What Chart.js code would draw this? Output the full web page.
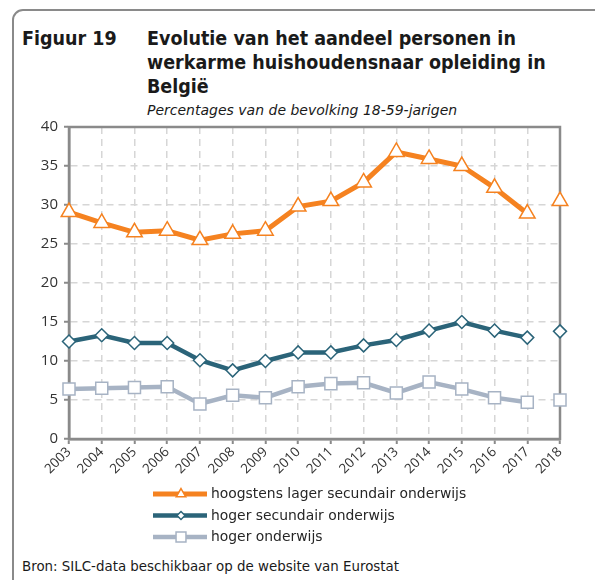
<!DOCTYPE html>
<html>
<head>
<meta charset="utf-8">
<script src="https://cdn.jsdelivr.net/npm/chart.js@4"></script>
<style>
  html, body { margin:0; padding:0; width:595px; height:580px; overflow:hidden; background:#fff; }
  #frame { position:absolute; left:12px; top:9px; width:700px; height:700px; border:2px solid #8a8a8a; border-top-left-radius:11px; box-sizing:border-box; }
  .t { position:absolute; font-family:"DejaVu Sans", sans-serif; color:#1a1a1a; white-space:nowrap; }
  .hd { font-family:"DejaVu Sans Condensed", "DejaVu Sans", sans-serif; font-stretch:condensed; font-size:19.5px; font-weight:bold; line-height:24px; }
  #fig { left:22px; top:27px; }
  #title { left:147px; top:27px; }
  #sub { left:147px; top:102px; font-size:14px; font-style:italic; }
  #src { left:22px; top:559px; font-size:13.4px; }
  canvas { position:absolute; left:0; top:0; }
</style>
</head>
<body>
<div id="frame"></div>
<div class="t hd" id="fig">Figuur 19</div>
<div class="t hd" id="title">Evolutie van het aandeel personen in<br>werkarme huishoudensnaar opleiding in<br>België</div>
<div class="t" id="sub">Percentages van de bevolking 18-59-jarigen</div>
<div class="t" id="src">Bron: SILC-data beschikbaar op de website van Eurostat</div>
<canvas id="c" width="595" height="580"></canvas>
<script>
const years = ['2003','2004','2005','2006','2007','2008','2009','2010','2011','2012','2013','2014','2015','2016','2017','2018'];
const seriesNames = ['hoogstens lager secundair onderwijs','hoger secundair onderwijs','hoger onderwijs'];
const lowEdu  = [29.1, 27.7, 26.5, 26.7, 25.5, 26.3, 26.7, 29.8, 30.5, 32.9, 36.8, 35.9, 35.0, 32.2, 28.9, 30.5];
const midEdu  = [12.5, 13.3, 12.3, 12.3, 10.1, 8.8, 10.0, 11.1, 11.1, 12.0, 12.7, 13.9, 15.0, 13.9, 13.0, 13.8];
const highEdu = [6.4, 6.5, 6.6, 6.7, 4.5, 5.6, 5.3, 6.7, 7.1, 7.2, 5.9, 7.3, 6.4, 5.3, 4.7, 5.0];
const yMin = 0, yMax = 40, yStep = 5;

const colors = ['#f58220', '#2b6479', '#a7b3c4'];
const styles = ['triangle', 'rectRot', 'rect'];
const radii = [9, 6.5, 8.5];
const legendRadii = [5.5, 4, 7];
const widths = [5, 4.5, 4.5];

// no connecting line between 2017 and 2018
const gapSeg = { borderColor: ctx => (ctx.p1DataIndex === years.length - 1 ? 'rgba(0,0,0,0)' : undefined) };

function mk(i, data) {
  return {
    label: seriesNames[i], data,
    borderColor: colors[i], borderWidth: widths[i],
    pointStyle: styles[i], pointRadius: radii[i], pointHoverRadius: radii[i],
    pointBackgroundColor: '#ffffff', pointBorderColor: colors[i], pointBorderWidth: 1.5,
    tension: 0, segment: gapSeg, fill: false
  };
}

const framePlugin = {
  id: 'frameBox',
  beforeDatasetsDraw(chart) {
    const a = chart.chartArea, ctx = chart.ctx;
    ctx.save();
    ctx.strokeStyle = '#8a8a8a';
    ctx.lineWidth = 2.5;
    ctx.strokeRect(a.left, a.top, a.right - a.left, a.bottom - a.top);
    ctx.restore();
  }
};

const legendPlugin = {
  id: 'lineLegend',
  afterDraw(chart) {
    const ctx = chart.ctx;
    const rows = [494, 515.5, 537];
    chart.data.datasets.forEach((ds, i) => {
      const y = rows[i];
      ctx.save();
      ctx.strokeStyle = ds.borderColor; ctx.lineWidth = ds.borderWidth;
      ctx.beginPath(); ctx.moveTo(153, y); ctx.lineTo(207, y); ctx.stroke();
      ctx.fillStyle = '#fff'; ctx.strokeStyle = ds.borderColor; ctx.lineWidth = 1.5;
      Chart.helpers.drawPoint(ctx, { pointStyle: ds.pointStyle, radius: legendRadii[i], borderWidth: 1.5, rotation: 0 }, 181, y);
      ctx.fillStyle = '#262626';
      ctx.font = '13.9px "DejaVu Sans"';
      ctx.textBaseline = 'middle';
      ctx.fillText(ds.label, 211, y + 0.5);
      ctx.restore();
    });
  }
};

new Chart(document.getElementById('c'), {
  type: 'line',
  data: { labels: years, datasets: [mk(0, lowEdu), mk(1, midEdu), mk(2, highEdu)] },
  plugins: [framePlugin, legendPlugin],
  options: {
    responsive: false, animation: false,
    layout: { padding: { left: 0, top: 127, right: 35, bottom: 0 } },
    plugins: { legend: { display: false }, tooltip: { enabled: false } },
    scales: {
      x: {
        offset: false,
        grid: { color: '#d6d6d6', lineWidth: 1.5, drawTicks: true, tickLength: 5, tickColor: '#8a8a8a', tickWidth: 2, tickBorderDash: [] },
        border: { display: true, color: '#8a8a8a', width: 2.5, dash: [7, 5] },
        ticks: { color: '#333333', font: { family: '"Open Sans"', size: 13.5 }, minRotation: 45, maxRotation: 45, padding: 0, autoSkip: false },
        afterFit(s) { s.height = 141; }
      },
      y: {
        min: yMin, max: yMax,
        grid: { color: '#d6d6d6', lineWidth: 1.5, drawTicks: true, tickLength: 5, tickColor: '#8a8a8a', tickWidth: 2, tickBorderDash: [] },
        border: { display: true, color: '#8a8a8a', width: 2.5, dash: [7, 5] },
        ticks: { stepSize: yStep, color: '#333333', font: { family: '"Open Sans"', size: 15 }, padding: 6 },
        afterFit(s) { s.width = 69; }
      }
    }
  }
});
</script>
</body>
</html>
